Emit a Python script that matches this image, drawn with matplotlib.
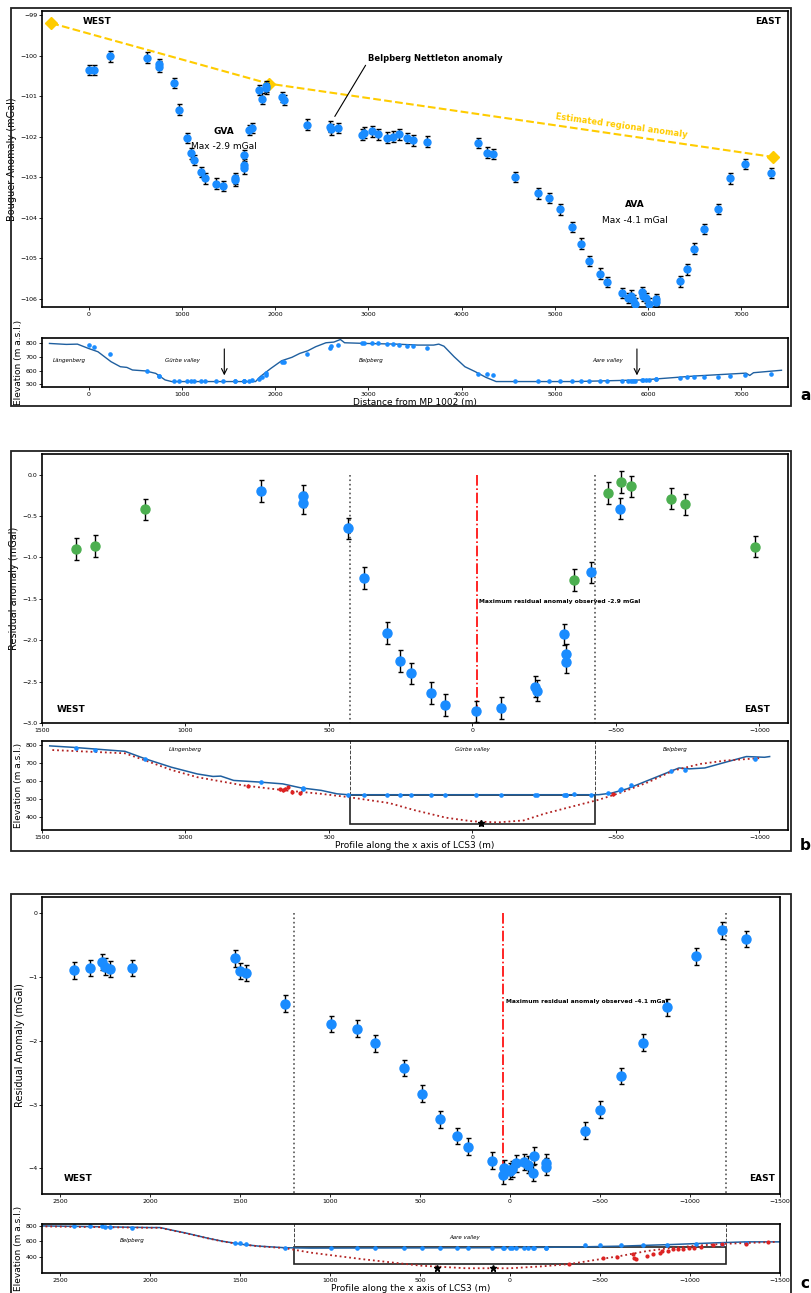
import numpy as np
import matplotlib
matplotlib.use("Agg")
import matplotlib.pyplot as plt
from matplotlib.patches import Rectangle

# ---- panel a : Bouguer anomaly along the profile ----
a_x = [0, 57, 232, 621, 757, 757, 914, 971, 1050, 1096,
       1132, 1204, 1250, 1361, 1443, 1568, 1568, 1664, 1671, 1671,
       1725, 1757, 1829, 1861, 1907, 1907, 2071, 2100, 2339, 2586,
       2600, 2671, 2929, 2957, 3039, 3100, 3196, 3264, 3325, 3411,
       3482, 3632, 4179, 4275, 4339, 4571, 4814, 4939, 5054, 5186,
       5279, 5371, 5482, 5554, 5718, 5789, 5818, 5839, 5861, 5936,
       5943, 5975, 6014, 6089, 6089, 6343, 6414, 6489, 6600, 6746,
       6879, 7039, 7321]
a_g = [-100.35, -100.35, -100.02, -100.05, -100.21, -100.27, -100.68, -101.33, -102.03, -102.41,
       -102.58, -102.87, -103.03, -103.16, -103.22, -103.03, -103.08, -102.46, -102.69, -102.78,
       -101.83, -101.78, -100.85, -101.06, -100.76, -100.81, -101.02, -101.10, -101.70, -101.75,
       -101.82, -101.79, -101.95, -101.90, -101.87, -101.94, -102.02, -102.00, -101.94, -102.03,
       -102.09, -102.12, -102.16, -102.39, -102.43, -102.99, -103.40, -103.51, -103.79, -104.23,
       -104.64, -105.07, -105.38, -105.58, -105.85, -105.98, -105.92, -106.03, -106.12, -105.84,
       -105.93, -105.98, -106.12, -106.01, -106.07, -105.57, -105.27, -104.76, -104.28, -103.78,
       -103.03, -102.67, -102.90]
a_z = [788, 776, 722, 598, 562, 562, 522, 522, 522, 522,
       522, 522, 522, 522, 522, 522, 522, 522, 522, 522,
       524, 532, 540, 552, 570, 580, 660, 662, 722, 770,
       778, 790, 800, 803, 800, 800, 795, 795, 790, 778,
       778, 766, 578, 575, 565, 522, 522, 522, 522, 522,
       522, 522, 522, 522, 525, 527, 527, 527, 527, 530,
       530, 530, 532, 538, 538, 545, 550, 553, 556, 556,
       558, 565, 578]
reg_x = [-400, 1930, 7340]
reg_g = [-99.2, -100.69, -102.5]

topo_a_x = [-420, -240, -120, 0, 100, 240, 340, 410, 470, 610, 720, 820, 890,
            1790, 1840, 1955, 2070, 2180, 2265, 2350, 2435, 2545, 2630, 2700, 2745,
            2970, 3300, 3530, 3700, 3755, 3810, 3920, 4035, 4145, 4260, 4370,
            5210, 5945, 6505, 7000, 7050, 7090, 7130, 7430]
topo_a_z = [800, 793, 795, 763, 739, 666, 629, 624, 605, 598, 580, 532, 520,
            520, 556, 617, 673, 698, 727, 746, 776, 805, 810, 829, 805,
            800, 795, 788, 788, 795, 780, 702, 629, 593, 551, 520,
            520, 532, 561, 580, 582, 565, 585, 603]

# ---- panel b : Gurbe valley residual ----
b_x_blue = [737, 592, 591, 435, 377, 298, 253, 214, 145, 95,
            -14, -99, -218, -225, -320, -326, -326, -413, -516]
b_g_blue = [-0.20, -0.26, -0.34, -0.65, -1.25, -1.91, -2.25, -2.40, -2.64, -2.78,
            -2.86, -2.82, -2.56, -2.61, -1.93, -2.17, -2.26, -1.18, -0.41]
b_z_blue = [598, 561, 558, 525, 522, 522, 522, 522, 522, 522,
            522, 522, 522, 522, 522, 522, 522, 522, 550]
b_x_green = [1381, 1317, 1142, -354, -472, -517, -554, -693, -741, -985]
b_g_green = [-0.90, -0.86, -0.42, -1.27, -0.22, -0.09, -0.14, -0.29, -0.36, -0.87]
b_z_green = [785, 774, 721, 528, 536, 556, 578, 657, 662, 721]

topo_b_x = [1473, 1392, 1211, 1139, 1049, 959, 904, 877, 832, 742, 661, 598, 527, 472, 433,
            -440, -485, -540, -612, -684, -720, -756, -810, -883, -955, -1018, -1036]
topo_b_z = [795, 787, 765, 723, 677, 640, 626, 628, 604, 595, 585, 563, 549, 530, 525,
            525, 534, 558, 604, 650, 673, 668, 673, 705, 736, 732, 736]
bed_b_x = [1464, 1211, 1139, 1049, 959, 796, 652, 527, 433, 290, 200, 92, 0, -88, -179,
           -251, -341, -440, -522, -612, -702, -793, -883, -1009]
bed_b_z = [772, 754, 714, 662, 622, 576, 549, 530, 512, 479, 439, 398, 378, 372, 383,
           420, 457, 497, 539, 594, 659, 695, 714, 728]
red_b_x = [783, 670, 661, 652, 643, 628, 601, -489]
red_b_z = [576, 554, 549, 558, 567, 539, 534, 528]
star_b_x = [-30]
star_b_z = [368]

# ---- panel c : Aare valley residual ----
c_x = [2424, 2331, 2265, 2248, 2224, 2100, 1528, 1500, 1465, 1248,
       993, 852, 748, 589, 487, 391, 293, 235, 98, 35,
       39, 0, -9, -31, -80, -102, -126, -135, -198, -198,
       -417, -498, -619, -739, -872, -1033, -1176, -1309]
c_g = [-0.90, -0.86, -0.77, -0.84, -0.88, -0.86, -0.71, -0.91, -0.94, -1.42,
       -1.74, -1.81, -2.04, -2.43, -2.83, -3.23, -3.49, -3.66, -3.88, -4.00,
       -4.11, -4.04, -4.01, -3.92, -3.90, -3.94, -4.07, -3.80, -3.91, -3.97,
       -3.41, -3.08, -2.55, -2.03, -1.48, -0.68, -0.27, -0.41]
c_z = [800, 796, 790, 788, 788, 767, 581, 577, 569, 520,
       520, 520, 520, 520, 520, 520, 520, 520, 520, 520,
       520, 520, 520, 520, 520, 520, 520, 520, 522, 522,
       548, 550, 552, 555, 560, 569, 572, 581]

topo_c_x = [2607, 2347, 2001, 1944, 1886, 1800, 1684, 1598, 1483, 1396, 1252, 1108,
            0, -329, -617, -905, -1136, -1313, -1503]
topo_c_z = [796, 788, 775, 775, 746, 705, 643, 602, 561, 540, 520, 515,
            520, 528, 540, 561, 581, 594, 594]
bed_c_x = [2607, 2347, 2001, 1944, 1886, 1800, 1684, 1598, 1483, 1396, 1252, 1108,
           820, 497, 244, 0, -184, -329, -617, -761, -905, -1049, -1193, -1481]
bed_c_z = [790, 782, 772, 772, 744, 703, 641, 600, 559, 538, 515, 458,
           375, 293, 260, 260, 285, 313, 417, 478, 520, 548, 569, 594]
red_c_x = [-329, -516, -597, -681, -689, -698, -761, -796, -833, -847, -876,
           -905, -934, -963, -992, -1020, -1063, -1130, -1179, -1313, -1434]
red_c_z = [313, 396, 400, 437, 396, 375, 417, 437, 458, 478, 478,
           499, 507, 499, 520, 520, 532, 548, 561, 573, 590]
star_c_x = [408, 94]
star_c_z = [264, 264]

BLUE = '#1a8cff'
GREEN = '#4caf50'
LINE = '#1f5f9f'
BED = '#b22222'
W, H = 811, 1293

fig = plt.figure(figsize=(8.11, 12.93), dpi=100)


def box(l, t, r, b):
    return [l / W, 1 - b / H, (r - l) / W, (b - t) / H]


def style(ax, fs=4.5):
    ax.tick_params(labelsize=fs, length=2, width=0.6, pad=1.5)
    for s in ax.spines.values():
        s.set_linewidth(1.2)


def errpts(ax, x, y, color, ms, err=0.13):
    ax.errorbar(x, y, yerr=err, fmt='o', color=color, ms=ms, ecolor='black',
                elinewidth=1, capsize=1.8, capthick=1, zorder=3)


# frames round panels
for t, b in [(8, 406), (451, 851), (894, 1300)]:
    fig.add_artist(Rectangle((11 / W, 1 - b / H), 780 / W, (b - t) / H,
                             transform=fig.transFigure, fill=False, lw=1.3, ec='#222222'))
for lab, yy in [('a', 395), ('b', 845), ('c', 1283)]:
    fig.text(800 / W, 1 - yy / H, lab, fontsize=11, fontweight='bold', va='center')

# ---------------- panel a ----------------
ax = fig.add_axes(box(42, 11, 788, 307))
ax.plot(reg_x, reg_g, '--', color='#ffcc00', lw=1.5, marker='D', ms=6, zorder=2)
errpts(ax, a_x, a_g, BLUE, 5)
ax.set_xlim(-500, 7500)
ax.set_ylim(-106.2, -98.9)
ax.set_yticks(range(-106, -98))
style(ax)
ax.set_ylabel('Bouguer Anomaly (mGal)', fontsize=7, labelpad=2)
ax.text(0.074, 0.963, 'WEST', transform=ax.transAxes, fontsize=6.5, fontweight='bold', ha='center', va='center')
ax.text(0.99, 0.963, 'EAST', transform=ax.transAxes, fontsize=6.5, fontweight='bold', ha='right', va='center')
ax.text(1453, -101.88, 'GVA', fontsize=6.5, fontweight='bold', ha='center', va='center')
ax.text(1453, -102.23, 'Max -2.9 mGal', fontsize=6.5, ha='center', va='center')
ax.text(5853, -103.68, 'AVA', fontsize=6.5, fontweight='bold', ha='center', va='center')
ax.text(5853, -104.07, 'Max -4.1 mGal', fontsize=6.5, ha='center', va='center')
ax.annotate('Belpberg Nettleton anomaly', xy=(2640, -101.5), xytext=(3000, -100.08),
            fontsize=6, fontweight='bold', va='center',
            arrowprops=dict(arrowstyle='-', color='black', lw=0.8, shrinkA=0, shrinkB=0,
                            relpos=(0, 0.3)))
ax.text(5714, -101.73, 'Estimated regional anomaly', fontsize=6, color='#ffcc00',
        fontweight='bold', rotation=-8, ha='center', va='center')

ax = fig.add_axes(box(42, 338, 788, 387))
ax.plot(topo_a_x, topo_a_z, color=LINE, lw=1)
ax.plot(a_x, a_z, 'o', color=BLUE, ms=2.3)
ax.set_xlim(-500, 7500)
ax.set_ylim(480, 840)
ax.set_yticks([500, 600, 700, 800])
style(ax)
ax.set_ylabel('Elevation (m a.s.l.)', fontsize=6.5, labelpad=2)
ax.set_xlabel('Distance from MP 1002 (m)', fontsize=6.5, labelpad=1)
for tx, tz, s in [(-210, 678, 'Längenberg'), (1010, 678, 'Gürbe valley'),
                  (3030, 678, 'Belpberg'), (5570, 678, 'Aare valley')]:
    ax.text(tx, tz, s, fontsize=4, style='italic', ha='center', va='center')
for xa in [1455, 5880]:
    ax.annotate('', xy=(xa, 545), xytext=(xa, 780),
                arrowprops=dict(arrowstyle='->', color='black', lw=0.8))

# ---------------- panel b ----------------
ax = fig.add_axes(box(42, 454, 788, 723))
for xv in [427, -427]:
    ax.plot([xv, xv], [0, -3.0], ':', color='#555555', lw=1.2)
ax.plot([-15, -15], [0, -2.9], '-.', color='red', lw=1.2)
errpts(ax, b_x_green, b_g_green, GREEN, 6.5)
errpts(ax, b_x_blue, b_g_blue, BLUE, 6.5)
ax.set_xlim(1500, -1100)
ax.set_ylim(-3.0, 0.25)
ax.set_yticks([0, -0.5, -1.0, -1.5, -2.0, -2.5, -3.0])
style(ax)
ax.set_ylabel('Residual anomaly (mGal)', fontsize=7, labelpad=2)
ax.text(-23, -1.53, 'Maximum residual anomaly observed -2.9 mGal', fontsize=4.3,
        fontweight='bold', ha='left', va='center')
ax.text(1399, -2.84, 'WEST', fontsize=6.5, fontweight='bold', ha='center', va='center')
ax.text(-992, -2.84, 'EAST', fontsize=6.5, fontweight='bold', ha='center', va='center')

ax = fig.add_axes(box(42, 741, 788, 830))
for xv in [427, -427]:
    ax.plot([xv, xv], [525, 830], '--', color='#444444', lw=0.7)
ax.add_patch(Rectangle((-427, 363), 854, 162, fill=False, ec='#222222', lw=1.2, zorder=1))
ax.plot(topo_b_x, topo_b_z, color=LINE, lw=1.1)
ax.plot(bed_b_x, bed_b_z, ':', color=BED, lw=1.3)
ax.plot(b_x_blue, b_z_blue, 'o', color=BLUE, ms=2.3)
ax.plot(b_x_green, b_z_green, 'o', color=BLUE, ms=2.3)
ax.errorbar(red_b_x, red_b_z, yerr=8, fmt='o', color='#dd2222', ms=2, elinewidth=0.8)
ax.errorbar(star_b_x, star_b_z, yerr=15, fmt='*', color='black', ms=5, elinewidth=0.8)
ax.set_xlim(1500, -1100)
ax.set_ylim(330, 822)
ax.set_yticks([400, 500, 600, 700, 800])
style(ax)
ax.set_ylabel('Elevation (m a.s.l.)', fontsize=6.5, labelpad=2)
ax.set_xlabel('Profile along the x axis of LCS3 (m)', fontsize=6.5, labelpad=1)
for tx, tz, s in [(1000, 774, 'Längenberg'), (0, 774, 'Gürbe valley'), (-706, 774, 'Belpberg')]:
    ax.text(tx, tz, s, fontsize=4, style='italic', ha='center', va='center')

# ---------------- panel c ----------------
ax = fig.add_axes(box(42, 897, 780, 1194))
for xv in [1200, -1200]:
    ax.plot([xv, xv], [0, -4.4], ':', color='#555555', lw=1.2)
ax.plot([37, 37], [0, -4.1], '-.', color='red', lw=1.2)
errpts(ax, c_x, c_g, BLUE, 6.5)
ax.set_xlim(2600, -1500)
ax.set_ylim(-4.4, 0.25)
ax.set_yticks([0, -1, -2, -3, -4])
style(ax)
ax.set_ylabel('Residual Anomaly (mGal)', fontsize=7, labelpad=2)
ax.text(24, -1.39, 'Maximum residual anomaly observed -4.1 mGal', fontsize=4.3,
        fontweight='bold', ha='left', va='center')
ax.text(2400, -4.15, 'WEST', fontsize=6.5, fontweight='bold', ha='center', va='center')
ax.text(-1402, -4.15, 'EAST', fontsize=6.5, fontweight='bold', ha='center', va='center')

ax = fig.add_axes(box(42, 1224, 780, 1273))
for xv in [1200, -1200]:
    ax.plot([xv, xv], [528, 820], '--', color='#444444', lw=0.7)
ax.add_patch(Rectangle((-1200, 312), 2400, 216, fill=False, ec='#222222', lw=1.2, zorder=1))
ax.plot(topo_c_x, topo_c_z, color=LINE, lw=1.1)
ax.plot(bed_c_x, bed_c_z, ':', color=BED, lw=1.3)
ax.plot(c_x, c_z, 'o', color=BLUE, ms=2.3)
ax.errorbar(red_c_x, red_c_z, yerr=12, fmt='o', color='#dd2222', ms=2, elinewidth=0.8)
ax.errorbar(star_c_x, star_c_z, yerr=15, fmt='*', color='black', ms=5, elinewidth=0.8)
ax.set_xlim(2600, -1500)
ax.set_ylim(200, 820)
ax.set_yticks([400, 600, 800])
style(ax)
ax.set_ylabel('Elevation (m a.s.l.)', fontsize=6.5, labelpad=2)
ax.set_xlabel('Profile along the x axis of LCS3 (m)', fontsize=6.5, labelpad=1)
ax.text(2100, 614, 'Belpberg', fontsize=4, style='italic', ha='center', va='center')
ax.text(250, 652, 'Aare valley', fontsize=4, style='italic', ha='center', va='center')

fig.savefig('out.png', dpi=100)
